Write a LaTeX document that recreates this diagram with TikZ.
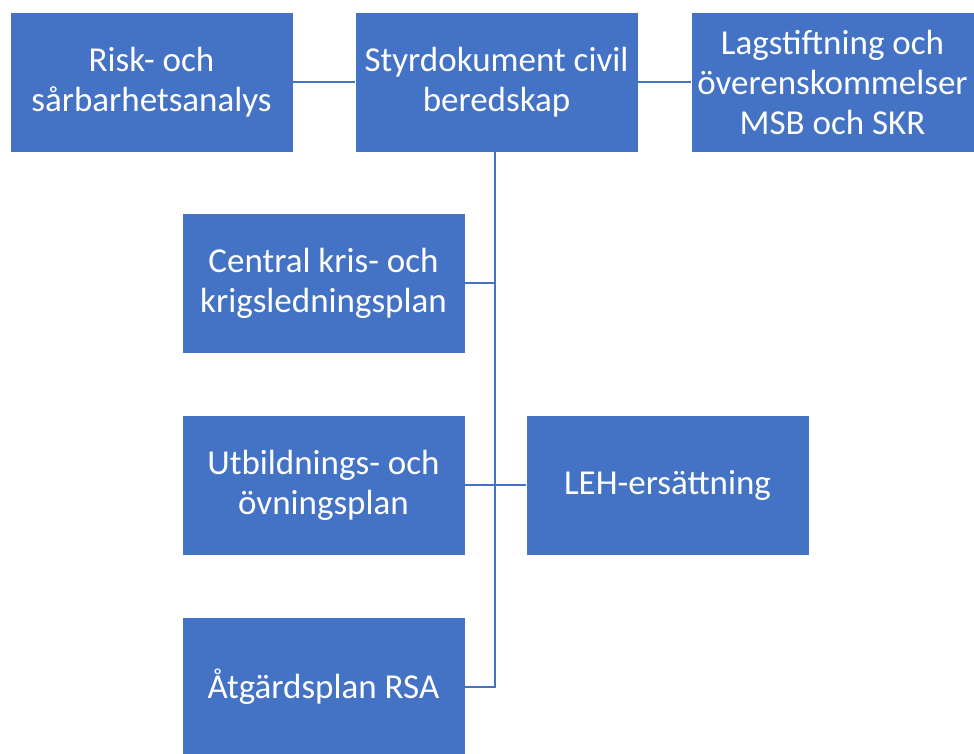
\documentclass[tikz,border=0pt]{standalone}
\usepackage{fontspec}
\setmainfont{Carlito}
\definecolor{boxblue}{HTML}{4472C4}
\definecolor{lineblue}{HTML}{4472C4}
\tikzset{
  box/.style={fill=boxblue, draw=white, line width=0.8pt, minimum width=283pt, minimum height=140pt,
    inner sep=0pt, align=center, text=white, font=\fontsize{35}{40}\selectfont},
  conn/.style={draw=lineblue, line width=1.3pt}
}
\begin{document}
\begin{tikzpicture}[x=1pt,y=-1pt]
\useasboundingbox (0,0) rectangle (974,753);
\node[box] (risk) at (151.5,82) {Risk- och\\sårbarhetsanalys};
\node[box] (styr) at (496.5,82) {Styrdokument civil\\beredskap};
\node[box] (lag) at (832.5,82) {Lagstiftning och\\överenskommelser\\MSB och SKR};
\node[box] (cen) at (323.5,283) {Central kris- och\\krigsledningsplan};
\node[box] (utb) at (323.5,485) {Utbildnings- och\\övningsplan};
\node[box] (leh) at (667.5,485) {LEH-ersättning};
\node[box] (atg) at (323.5,687) {Åtgärdsplan RSA};
\coordinate (trunk) at ([xshift=-1.5pt]styr.south);
\draw[conn] (risk.east) -- (styr.west);
\draw[conn] (styr.east) -- (lag.west);
\draw[conn] (trunk) |- (atg.east);
\draw[conn] (cen.east) -- (cen.east -| trunk);
\draw[conn] (utb.east) -- (leh.west);
\end{tikzpicture}
\end{document}
